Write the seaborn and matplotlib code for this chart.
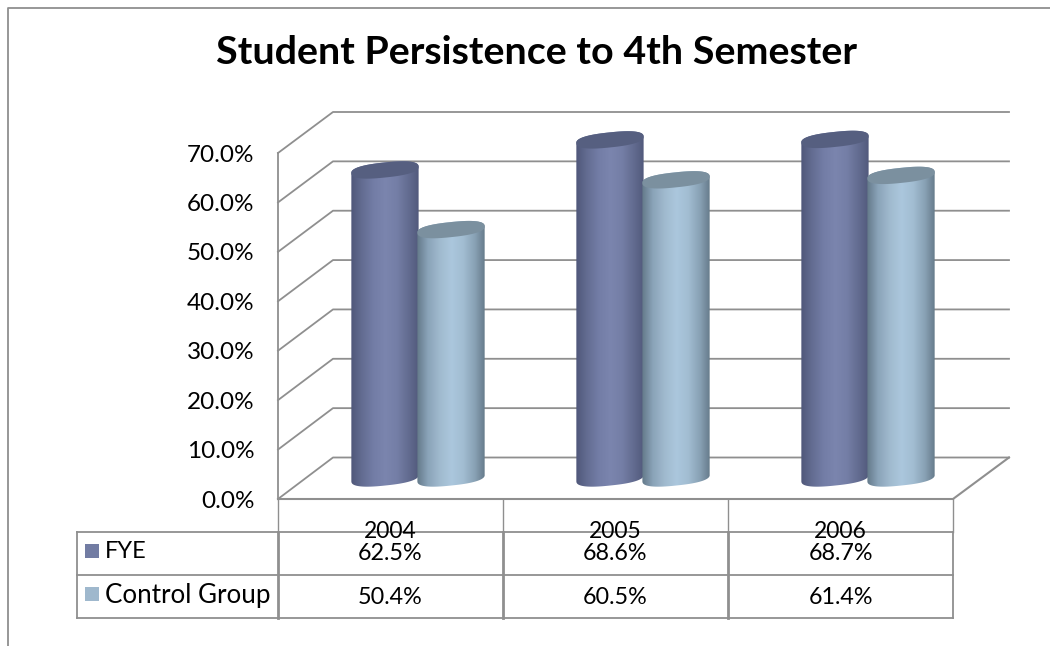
import numpy as np
import pandas as pd
import matplotlib
matplotlib.use("Agg")
import matplotlib.pyplot as plt
from matplotlib.colors import LinearSegmentedColormap
from matplotlib.patches import Polygon, Rectangle
from matplotlib.path import Path
from matplotlib.transforms import IdentityTransform
import seaborn as sns

YEARS = ["2004", "2005", "2006"]
SERIES = ["FYE", "Control Group"]
FYE = [62.5, 68.6, 68.7]
CONTROL = [50.4, 60.5, 61.4]
Y_TICKS = [0, 10, 20, 30, 40, 50, 60, 70]
TITLE = "Student Persistence to 4th Semester"

W, H = 1050, 646
LINE = "#8f8f8f"
SERIES_COLORS = ["#727ca3", "#9fb8cd"]
TOP_COLORS = ["#565f80", "#7b909f"]
GRADIENTS = [
    ["#4d5577", "#636c91", "#737da6", "#7b85ae", "#747ea6", "#626b8f", "#4e5678"],
    ["#607585", "#8aa3b8", "#a0bace", "#abc7dd", "#a2bdd2", "#88a1b4", "#5f7383"],
]

sns.set_theme(style="white")
plt.rcParams["font.family"] = ["Lato", "DejaVu Sans"]

fig = plt.figure(figsize=(W / 100, H / 100), dpi=100)


def axes_px(x0, y0, x1, y1):
    return fig.add_axes([x0 / W, 1 - y1 / H, (x1 - x0) / W, (y1 - y0) / H])


# ── Frame, walls and table lines, in pixel coordinates ────────────────────────
bg = axes_px(0, 0, W, H)
bg.set_xlim(0, W)
bg.set_ylim(H, 0)
bg.axis("off")


def line(xs, ys, lw=1.3, color=LINE):
    bg.plot(xs, ys, color=color, lw=lw, solid_capstyle="projecting")


line([8, 8, W], [H, 8, 8], lw=1.3)

FRONT_X, FRONT_Y0, FRONT_Y70 = 278, 499, 153
BACK_X0, BACK_X1, BACK_Y0, BACK_Y70 = 333, 1009, 457.5, 112
RIGHT_X = 953
for tick in Y_TICKS:
    fy = FRONT_Y0 + (FRONT_Y70 - FRONT_Y0) * tick / 70
    by = BACK_Y0 + (BACK_Y70 - BACK_Y0) * tick / 70
    line([FRONT_X, BACK_X0, BACK_X1], [fy, by, by])
line([BACK_X1, RIGHT_X, FRONT_X], [BACK_Y0, FRONT_Y0, FRONT_Y0], lw=1.5)

ROWS_Y = [531.5, 575, 617.5]
COLS_X = [278, 503, 728, 953]
for y in ROWS_Y:
    line([76.5, RIGHT_X], [y, y])
line([76.5, 76.5], [ROWS_Y[0], ROWS_Y[-1]])
for x in COLS_X:
    line([x, x], [FRONT_Y0, ROWS_Y[0]], lw=1.0)
    line([x, x], [ROWS_Y[0], ROWS_Y[-1]], lw=2.0 if x < RIGHT_X else 1.3)

# ── Front axis: percent labels and year labels ────────────────────────────────
front = axes_px(FRONT_X, FRONT_Y70, RIGHT_X, FRONT_Y0)
front.patch.set_visible(False)
front.set_xlim(-0.5, 2.5)
front.set_ylim(0, 70)
for side in front.spines.values():
    side.set_visible(False)
front.spines["left"].set_visible(True)
front.spines["left"].set_color(LINE)
front.spines["left"].set_linewidth(1.3)
front.set_yticks(Y_TICKS, [f"{t:.1f}%" for t in Y_TICKS], fontsize=17.5, color="black")
front.set_xticks(range(len(YEARS)), YEARS, fontsize=16.5, color="black")
front.tick_params(axis="y", length=0, pad=17)
front.tick_params(axis="x", length=0, pad=16)

# ── Bars ──────────────────────────────────────────────────────────────────────
df = pd.DataFrame({
    "year": YEARS * 2,
    "series": [SERIES[0]] * 3 + [SERIES[1]] * 3,
    "value": FYE + CONTROL,
})
ax = axes_px(305.5, 133, 980.5, 478)
ax.patch.set_visible(False)
sns.barplot(data=df, x="year", y="value", hue="series", palette=SERIES_COLORS,
            width=0.587, gap=0, legend=False, ax=ax)
ax.set_xlim(-0.5, 2.5)
ax.set_ylim(0, 70)
ax.axis("off")


def ellipse(cx, cy, a, b, t):
    # tilted, slightly squared-off ellipse in display pixels, rises to the right
    tilt = np.radians(6)
    u = a * np.sign(np.cos(t)) * np.abs(np.cos(t)) ** 0.8
    v = b * np.sign(np.sin(t)) * np.abs(np.sin(t)) ** 0.8
    return np.column_stack([
        cx + u * np.cos(tilt) - v * np.sin(tilt),
        cy + u * np.sin(tilt) + v * np.cos(tilt),
    ])


for i, container in enumerate(ax.containers):
    cmap = LinearSegmentedColormap.from_list(f"cyl{i}", GRADIENTS[i])
    for rect in container:
        x0, w, h = rect.get_x(), rect.get_width(), rect.get_height()
        rect.set_visible(False)
        (px0, py0), (px1, py1) = ax.transData.transform([(x0, 0), (x0 + w, h)])
        cx, a, b = (px0 + px1) / 2, (px1 - px0) / 2 + 0.8, 7.5

        lower = ellipse(cx, py0, a, b, np.linspace(np.pi, 2 * np.pi, 60))
        upper = ellipse(cx, py1, a, b, np.linspace(0, np.pi, 60))
        outline = Path(np.vstack([lower, upper, lower[:1]]), closed=True)

        img = ax.imshow(np.linspace(0, 1, 256)[None, :], cmap=cmap, aspect="auto",
                        extent=(x0 - 0.01, x0 + w + 0.01, -4, h + 4),
                        zorder=3 + i)
        img.set_clip_box(fig.bbox)
        img.set_clip_path(outline, IdentityTransform())

        top = ellipse(cx, py1, a, b, np.linspace(0, 2 * np.pi, 120))
        ax.add_patch(Polygon(top, closed=True, facecolor=TOP_COLORS[i], edgecolor="none",
                             transform=IdentityTransform(), zorder=3 + i, clip_on=False))
ax.set_xlim(-0.5, 2.5)
ax.set_ylim(0, 70)

# ── Title and table text ──────────────────────────────────────────────────────
bg.set_zorder(0)
front.set_zorder(1)
ax.set_zorder(2)
over = axes_px(0, 0, W, H)
over.set_xlim(0, W)
over.set_ylim(H, 0)
over.axis("off")
over.set_zorder(3)

over.text(536, 52, TITLE, ha="center", va="center", fontsize=28.4, fontweight="bold", color="black")
for row_y, swatch_y, name, values, color, name_size in zip(
        [554, 597], [544, 587], SERIES, [FYE, CONTROL], SERIES_COLORS, [17, 18.7]):
    over.add_patch(Rectangle((85, swatch_y), 14, 14, facecolor=color, edgecolor="none"))
    over.text(105, row_y - 2, name, ha="left", va="center", fontsize=name_size, color="black")
    for j, value in enumerate(values):
        over.text((COLS_X[j] + COLS_X[j + 1]) / 2, row_y, f"{value:.1f}%",
                  ha="center", va="center", fontsize=16.8, color="black")

fig.savefig("out.png", dpi=100)
